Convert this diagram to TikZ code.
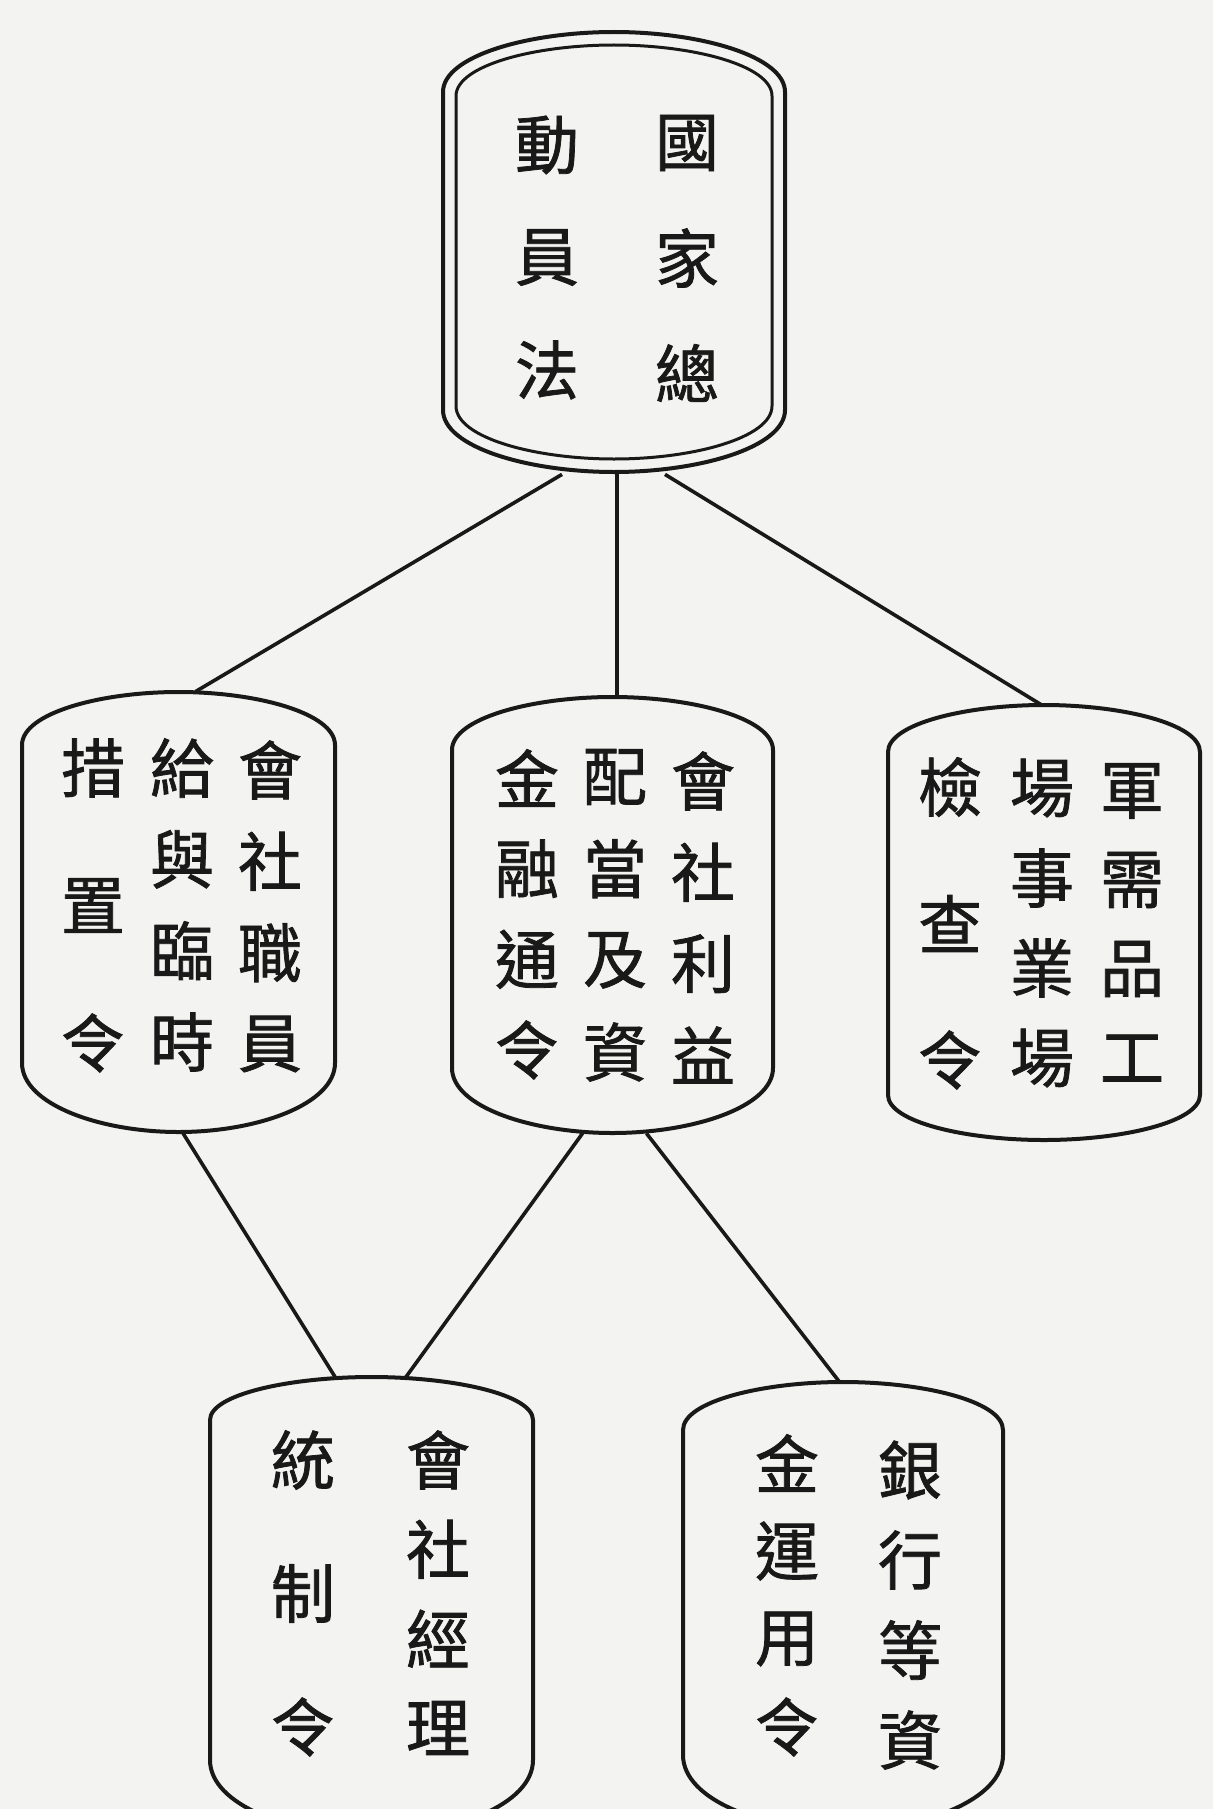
\documentclass[tikz,border=0pt]{standalone}
\usepackage{fontspec}
\newfontfamily\cjk[FakeBold=1.2]{Noto Sans CJK TC}
\usetikzlibrary{calc,fit}
\definecolor{paper}{RGB}{243,243,241}
\definecolor{ink}{RGB}{25,25,25}
\tikzset{
  boxline/.style={draw=ink, line width=2pt, line join=round},
  innerline/.style={draw=ink, line width=1.5pt, line join=round},
  conn/.style={draw=ink, line width=1.8pt},
  hanzi/.style={inner sep=0pt, text=ink, font=\cjk\fontsize{32}{32}\selectfont},
  boxarea/.style={inner sep=0pt, draw=none}
}
% barrel outline: L R top ys ye bot style
\newcommand\barrel[7]{%
  \draw[#7] (#1,#4) .. controls (#1,{#4-0.6*(#4-#3)}) and ({#1+0.25*(#2-#1)},#3) .. ({(#1+#2)/2},#3)
    .. controls ({#2-0.25*(#2-#1)},#3) and (#2,{#4-0.6*(#4-#3)}) .. (#2,#4)
    -- (#2,#5) .. controls (#2,{#5+0.6*(#6-#5)}) and ({#2-0.25*(#2-#1)},#6) .. ({(#1+#2)/2},#6)
    .. controls ({#1+0.25*(#2-#1)},#6) and (#1,{#5+0.6*(#6-#5)}) .. (#1,#5) -- cycle;}
% vertical text column: name x ytop ybot n list
\newcommand\tcol[6]{%
  \foreach \ch [count=\i from 0] in {#6}
    \node[hanzi] (#1-\i) at (#2,{#3+\i*(#4-#3)/(#5-1)}) {\ch};}
\begin{document}
\begin{tikzpicture}[x=0.5pt,y=-0.5pt]
\useasboundingbox (0,0) rectangle (1213,1809);
\fill[paper] (0,0) rectangle (1213,1809);
\clip (0,0) rectangle (1213,1809);

% box areas (for connectors)
\node[boxarea, fit={(443,32) (785,472)}] (top) {};
\node[boxarea, fit={(22,692) (335,1132)}] (ml) {};
\node[boxarea, fit={(452,697) (773,1133)}] (mc) {};
\node[boxarea, fit={(888,705) (1200,1140)}] (mr) {};
\node[boxarea, fit={(210,1377) (533,1835)}] (bl) {};
\node[boxarea, fit={(683,1382) (1003,1830)}] (br) {};

% outlines
\barrel{443}{785}{32}{92}{410}{472}{boxline}
\barrel{456}{772}{45}{96}{406}{459}{innerline}
\barrel{22}{335}{692}{745}{1063}{1132}{boxline}
\barrel{452}{773}{697}{750}{1068}{1133}{boxline}
\barrel{888}{1200}{705}{752}{1095}{1140}{boxline}
\barrel{210}{533}{1377}{1420}{1760}{1835}{boxline}
\barrel{683}{1003}{1382}{1430}{1755}{1830}{boxline}

% texts
\tcol{t1}{687}{143}{373}{3}{國,家,總}
\tcol{t2}{547}{145}{370}{3}{動,員,法}
\tcol{a1}{270}{770}{1044}{4}{會,社,職,員}
\tcol{a2}{182}{768}{1042}{4}{給,與,臨,時}
\tcol{a3}{93}{768}{1043}{3}{措,置,令}
\tcol{b1}{703}{781}{1055}{4}{會,社,利,益}
\tcol{b2}{615}{777}{1052}{4}{配,當,及,資}
\tcol{b3}{527}{778}{1050}{4}{金,融,通,令}
\tcol{c1}{1132}{791}{1058}{4}{軍,需,品,工}
\tcol{c2}{1042}{788}{1058}{4}{場,事,業,場}
\tcol{c3}{950}{787}{1060}{3}{檢,查,令}
\tcol{d1}{438}{1460}{1728}{4}{會,社,經,理}
\tcol{d2}{303}{1460}{1727}{3}{統,制,令}
\tcol{e1}{910}{1470}{1740}{4}{銀,行,等,資}
\tcol{e2}{787}{1463}{1727}{4}{金,運,用,令}

% connectors
\draw[conn] ($(top.south)+(-52,2)$) -- ($(ml.north)+(17,0)$);
\draw[conn] ($(top.south)+(3,2)$) -- ($(mc.north)+(4.5,1)$);
\draw[conn] ($(top.south)+(51,2)$) -- ($(mr.north)+(-3,0)$);
\draw[conn] ($(ml.south)+(4,0)$) -- ($(bl.north)+(-36,1)$);
\draw[conn] ($(mc.south)+(-30,0)$) -- ($(bl.north)+(34,1)$);
\draw[conn] ($(mc.south)+(34,0)$) -- ($(br.north)+(-3,1)$);
\end{tikzpicture}
\end{document}
